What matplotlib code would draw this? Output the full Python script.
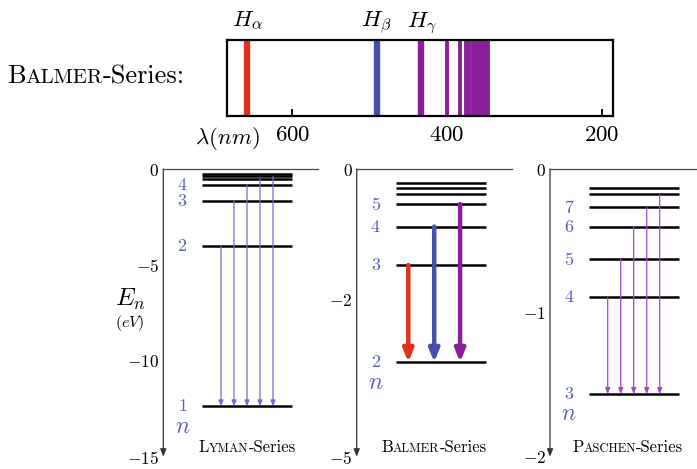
# Hydrogen spectrum: Balmer lines and energy level diagrams
import matplotlib.pyplot as plt

plt.rcParams['mathtext.fontset'] = 'cm'
plt.rcParams['font.family'] = 'cmr10'
plt.rcParams['axes.formatter.use_mathtext'] = True

# Balmer lines in the spectrum strip (nm)
spec_lambda = [658, 491, 433, 400, 383, 375, 371, 367, 363, 359, 355, 351, 347]
spec_names = [r'$H_\alpha$', r'$H_\beta$', r'$H_\gamma$']
spec_ticks = [600, 400, 200]

# energy levels (eV) as drawn in each panel
lyman_n = [1, 2, 3, 4, 5, 6, 7]
lyman_E = [-12.38, -4.01, -1.65, -0.82, -0.52, -0.39, -0.27]
balmer_n = [2, 3, 4, 5, 6, 7, 8]
balmer_E = [-3.36, -1.67, -1.00, -0.61, -0.43, -0.33, -0.24]
paschen_n = [3, 4, 5, 6, 7, 8, 9]
paschen_E = [-1.565, -0.892, -0.626, -0.401, -0.266, -0.176, -0.130]

# transitions (upper n) and which n get a label
lyman_from = [2, 3, 4, 5, 6]
balmer_from = [3, 4, 5]
paschen_from = [4, 5, 6, 7, 8]
lyman_lab = [1, 2, 3, 4]
balmer_lab = [2, 3, 4, 5]
paschen_lab = [3, 4, 5, 6, 7]

W, H = 697, 469
fig = plt.figure(figsize=(W / 100, H / 100), dpi=100)
renderer = fig.canvas.get_renderer()

RED, BLUE, PURPLE = '#e0301e', '#4550aa', '#8a1f9a'
LAB = '#5860bd'


def fx(px):
    return px / W


def fy(py):
    return 1 - py / H


def smallcaps(x, y, parts, ha='left'):
    # x, y in figure pixels (y from top, text baseline)
    texts = [fig.text(0, 0, s, fontsize=sz, va='baseline', family='cmr10')
             for s, sz in parts]
    widths = [t.get_window_extent(renderer).width for t in texts]
    if ha == 'center':
        x -= sum(widths) / 2
    for t, w in zip(texts, widths):
        t.set_position((fx(x), fy(y)))
        x += w


# ---- spectrum strip ----
ax = fig.add_axes([fx(227.3), fy(116), (613.3 - 227.3) / W, (116 - 39.7) / H])
ax.set_xlim(684, 185)
ax.set_ylim(0, 1)
for i, lam in enumerate(spec_lambda):
    col = RED if i == 0 else (BLUE if i == 1 else PURPLE)
    ax.axvline(lam, color=col, lw=4.6 if i < 3 else 2.8, solid_capstyle='butt')
for lam, name in zip(spec_lambda, spec_names):
    ax.text(lam, 1.17, name, ha='center', va='baseline', fontsize=16.5,
            transform=ax.get_xaxis_transform())
ax.set_xticks(spec_ticks, [rf'${t}$' for t in spec_ticks])
ax.set_yticks([])
ax.tick_params(axis='x', direction='in', length=5, width=1.3, pad=7,
               labelsize=16.5)
for s in ax.spines.values():
    s.set_linewidth(1.6)
ax.text(0, -0.3, r'$\lambda(nm)$', ha='center', va='center', fontsize=16.5,
        transform=ax.transAxes)
smallcaps(6.7, 83, [('B', 19), ('ALMER', 15), ('-Series:', 19)])

# ---- energy level panels ----
PW = 155


def panel(x0, bottom, ticks, ticklabels, ns, Es, labs):
    a = fig.add_axes([fx(x0), fy(456.7), PW / W, (456.7 - 169) / H])
    a.set_xlim(0, PW)
    a.set_ylim(bottom, 0)
    for s in a.spines.values():
        s.set_visible(False)
    a.set_xticks([])
    a.set_yticks(ticks, ticklabels)
    a.tick_params(axis='y', length=0, pad=3, labelsize=12.5)
    a.plot([0, PW], [0, 0], color='#444444', lw=0.9, clip_on=False)
    a.annotate('', xy=(0, bottom), xytext=(0, 0), annotation_clip=False,
               arrowprops=dict(arrowstyle='-|>,head_length=0.45,head_width=0.18',
                               color='#333333', lw=0.9, mutation_scale=10,
                               shrinkA=0, shrinkB=0))
    for E in Es:
        a.plot([39, 129], [E, E], color='black', lw=1.8, solid_capstyle='butt')
    for n, E in zip(ns, Es):
        if n in labs:
            a.text(19, E, rf'${n}$', color=LAB, fontsize=13, ha='center',
                   va='center')
    low = Es[0]
    a.annotate(r'$n$', xy=(19, low), xytext=(0, -14.5), textcoords='offset points',
               color=LAB, fontsize=17, ha='center', va='center')
    return a


def arrow(a, x, y0, y1, col, lw, hl, hw):
    a.annotate('', xy=(x, y1), xytext=(x, y0),
               arrowprops=dict(arrowstyle=f'-|>,head_length={hl},head_width={hw}',
                               color=col, lw=lw, mutation_scale=10,
                               shrinkA=0, shrinkB=0))


# Lyman
a1 = panel(163.3, -15, [0, -5, -10, -15],
           [r'$0$', r'$-5$', r'$-10$', r'$-15$'], lyman_n, lyman_E, lyman_lab)
for k, n in enumerate(lyman_from):
    arrow(a1, 57.7 + 13 * k, lyman_E[lyman_n.index(n)], lyman_E[0],
          '#6a72c8', 0.9, 0.35, 0.14)

# Balmer (tick labels sit where the reference draws them)
a2 = panel(356.7, -5, [0, -2.27, -5], [r'$0$', r'$-2$', r'$-5$'],
           balmer_n, balmer_E, balmer_lab)
for k, (n, col) in enumerate(zip(balmer_from, [RED, BLUE, PURPLE])):
    arrow(a2, 51.6 + 25.9 * k, balmer_E[balmer_n.index(n)], balmer_E[0],
          col, 3.2, 0.75, 0.3)

# Paschen
a3 = panel(550, -2, [0, -1, -2], [r'$0$', r'$-1$', r'$-2$'],
           paschen_n, paschen_E, paschen_lab)
for k, n in enumerate(paschen_from):
    arrow(a3, 57.7 + 13 * k, paschen_E[paschen_n.index(n)], paschen_E[0],
          '#a546c4', 0.9, 0.35, 0.14)

# axis label
fig.text(fx(130), fy(299), r'$E_n$', fontsize=18, ha='center', va='center')
fig.text(fx(130), fy(323), r'$(eV)$', fontsize=11.5, ha='center', va='center')

# series names
smallcaps(247.5, 451.7, [('L', 12), ('YMAN', 9), ('-Series', 12)], 'center')
smallcaps(434, 451.7, [('B', 12), ('ALMER', 9), ('-Series', 12)], 'center')
smallcaps(627.5, 451.7, [('P', 12), ('ASCHEN', 9), ('-Series', 12)], 'center')

fig.savefig('out.png', dpi=100)
